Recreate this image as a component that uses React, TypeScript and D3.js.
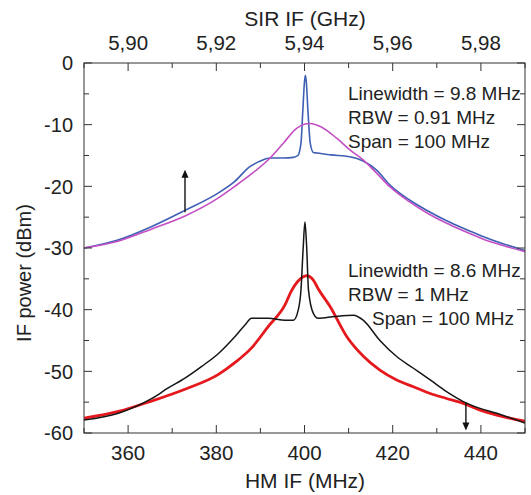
import React from "react";
import * as d3 from "d3";

// ---- data ----
const blueX = [350, 357.7, 365.4, 372.9, 380.4, 384.2, 387.6, 390, 392.2, 395.2, 397.5, 398.5, 399.2, 399.6, 400.0, 400.2, 400.4, 400.8, 401.3, 402, 402.8, 406, 410.3, 413.3, 416.4, 419.4, 424, 428, 432, 436, 440, 445, 450];
const blueY = [-30, -28.7, -26.5, -23.9, -21.1, -19.2, -16.8, -15.9, -15.4, -15.4, -15.3, -15, -13, -8, -3, -2, -3, -8, -13, -14.5, -14.6, -14.9, -15.2, -15.9, -17.4, -19.8, -22.3, -24, -25.5, -26.8, -28, -29.3, -30.4];

const magX = [350, 357.7, 365.4, 372.9, 380.4, 384.2, 387.6, 392.2, 395.2, 398.2, 400.1, 401.2, 403.6, 407.3, 410.3, 413.3, 416.4, 419.4, 424, 428, 432, 436, 440, 445, 450];
const magY = [-30, -28.9, -26.9, -24.8, -21.9, -20, -18.2, -15.4, -13, -10.6, -9.9, -9.8, -10.3, -12.2, -14.1, -15.7, -17.9, -20.1, -22.6, -24.4, -25.9, -27.2, -28.4, -29.6, -30.6];

const blackX = [350, 357.8, 365.4, 369.1, 372.9, 376.7, 380.5, 384.2, 386.5, 388, 391.8, 395.6, 397.5, 398.6, 399.2, 399.7, 400.1, 400.5, 400.9, 402, 403.1, 406.9, 411.1, 413.3, 417.1, 420.9, 424.7, 428.5, 432.2, 436, 439.8, 443.6, 450];
const blackY = [-57.9, -56.8, -54.4, -52.7, -51.1, -49.2, -47.1, -44.4, -42.5, -41.4, -41.4, -41.7, -41.7, -40, -36.8, -30, -25.8, -30, -36.8, -40.6, -41.4, -41.1, -40.9, -41.7, -45, -47.6, -49.5, -51.4, -53.3, -54.9, -56, -56.8, -58.4];

const redX = [350, 357.8, 365.4, 372.9, 380.5, 384.2, 388, 391.8, 395.6, 397, 398.5, 400.5, 402, 403.1, 405.8, 409.6, 413.4, 417.1, 420.9, 424.7, 428.5, 432.2, 436, 439.8, 443.6, 450];
const redY = [-57.6, -56.5, -54.8, -52.9, -50.5, -48.6, -46.2, -42.7, -39.2, -37, -35.4, -34.5, -35.2, -36.6, -39.5, -44.4, -47.6, -49.8, -51.4, -52.5, -53.6, -54.4, -55.2, -56.3, -57.1, -58.1];

const yTicks = [0, -10, -20, -30, -40, -50, -60];
const xTicks = [360, 380, 400, 420, 440];
const topTicks = [5.90, 5.92, 5.94, 5.96, 5.98];

const annoTop = ["Linewidth = 9.8 MHz", "RBW = 0.91 MHz", "Span = 100 MHz"];
const annoBottom = ["Linewidth = 8.6 MHz", "RBW = 1 MHz", "Span = 100 MHz"];

// arrows: [x MHz, from dB, to dB]
const arrowUp = [372.9, -24.2, -17.3];
const arrowDown = [436.6, -55.0, -59.6];

const series = [
  { xs: blueX, ys: blueY, color: "#3f5fb5", w: 1.6 },
  { xs: magX, ys: magY, color: "#c24fc4", w: 1.6 },
  { xs: redX, ys: redY, color: "#e5191d", w: 2.8 },
  { xs: blackX, ys: blackY, color: "#151515", w: 1.5 },
];

const W = 531, H = 495;
const L = 84, R = 525, T = 63, B = 433;
const FONT = "'Liberation Sans', Arial, sans-serif";
const TXT = "#222";

export default function App() {
  const x = d3.scaleLinear().domain([350, 450]).range([L, R]);
  const xTop = d3.scaleLinear().domain([5.89, 5.99]).range([L, R]);
  const y = d3.scaleLinear().domain([-60, 0]).range([B, T]);
  const line = d3.line<number>().curve(d3.curveMonotoneX);

  const minorY = d3.range(-60, 1, 5);
  const minorX = d3.range(350, 451, 10);
  const minorTop = d3.range(589, 600, 1).map((v) => v / 100);

  const arrow = (a: number[], key: string) => {
    const ax = x(a[0]);
    const y0 = y(a[1]);
    const y1 = y(a[2]);
    const dir = y1 < y0 ? 1 : -1; // 1 = pointing up
    const hl = 8, hw = 3.5;
    return (
      <g key={key}>
        <line x1={ax} y1={y0} x2={ax} y2={y1 + dir * hl * 0.7} stroke="#111" strokeWidth={1.4} />
        <path d={`M${ax},${y1} L${ax - hw},${y1 + dir * hl} L${ax + hw},${y1 + dir * hl} Z`} fill="#111" />
      </g>
    );
  };

  return (
    <svg width={W} height={H} style={{ position: "absolute", left: 0, top: 0, background: "#fff" }} fontFamily={FONT}>
      <rect x={0} y={0} width={W} height={H} fill="#fff" />
      <defs>
        <clipPath id="plot">
          <rect x={L} y={T} width={R - L} height={B - T} />
        </clipPath>
      </defs>

      {/* data lines */}
      <g clipPath="url(#plot)" fill="none" strokeLinejoin="round">
        {series.map((s, i) => (
          <path
            key={i}
            d={line(s.xs.map((v, j) => [x(v), y(s.ys[j])]) as any) || ""}
            stroke={s.color}
            strokeWidth={s.w}
          />
        ))}
      </g>

      {arrow(arrowUp, "up")}
      {arrow(arrowDown, "down")}

      {/* frame */}
      <rect x={L} y={T} width={R - L} height={B - T} fill="none" stroke="#333" strokeWidth={1} />

      {/* left & right ticks */}
      {minorY.map((v) => {
        const major = v % 10 === 0;
        const len = major ? 8 : 5;
        return (
          <g key={"y" + v} stroke="#333" strokeWidth={1}>
            <line x1={L} x2={L + len} y1={y(v)} y2={y(v)} />
            <line x1={R} x2={R - len} y1={y(v)} y2={y(v)} />
          </g>
        );
      })}
      {/* bottom ticks */}
      {minorX.map((v) => {
        const major = v % 20 === 0;
        const len = major ? 8 : 5;
        return <line key={"x" + v} x1={x(v)} x2={x(v)} y1={B} y2={B - len} stroke="#333" strokeWidth={1} />;
      })}
      {/* top ticks */}
      {minorTop.map((v, i) => {
        const major = i % 2 === 1;
        const len = major ? 8 : 5;
        return <line key={"t" + i} x1={xTop(v)} x2={xTop(v)} y1={T} y2={T + len} stroke="#333" strokeWidth={1} />;
      })}

      {/* tick labels */}
      {yTicks.map((v) => (
        <text key={"yl" + v} x={73} y={y(v)} dy="0.36em" textAnchor="end" fontSize={20} fill={TXT}>
          {v === 0 ? "0" : "-" + Math.abs(v)}
        </text>
      ))}
      {xTicks.map((v) => (
        <text key={"xl" + v} x={x(v)} y={460} textAnchor="middle" fontSize={20.5} fill={TXT}>
          {v}
        </text>
      ))}
      {topTicks.map((v) => (
        <text key={"tl" + v} x={xTop(v)} y={50} textAnchor="middle" fontSize={20.5} fill={TXT}>
          {v.toFixed(2).replace(".", ",")}
        </text>
      ))}

      {/* axis titles */}
      <text x={305} y={488} textAnchor="middle" fontSize={21} fill={TXT}>HM IF (MHz)</text>
      <text x={305} y={26} textAnchor="middle" fontSize={21} fill={TXT}>SIR IF (GHz)</text>
      <text transform={`translate(31,${(T + B) / 2 + 25}) rotate(-90)`} textAnchor="middle" fontSize={20} fill={TXT}>
        IF power (dBm)
      </text>

      {/* annotations */}
      {annoTop.map((t, i) => (
        <text key={"at" + i} x={348} y={100 + i * 24} fontSize={19} fill={TXT}>{t}</text>
      ))}
      {annoBottom.map((t, i) => (
        <text key={"ab" + i} x={i === 2 ? 372 : 348} y={277 + i * 24} fontSize={19} fill={TXT}>{t}</text>
      ))}
    </svg>
  );
}
